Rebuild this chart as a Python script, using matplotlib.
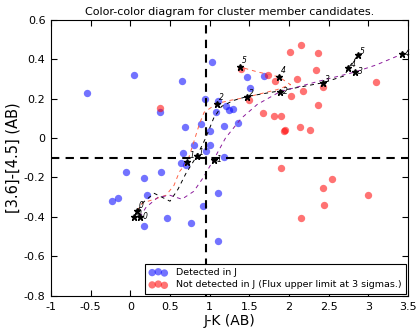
import matplotlib
matplotlib.use('Agg')
import matplotlib.pyplot as plt
import numpy as np

# detected in J: (J-K, [3.6]-[4.5])
det_jk = [-0.55, 0.045, 0.37, 0.655, 0.69, 1.025, 0.94, 0.89, 0.806, 0.66,
          1.0, 1.01, 1.08, 1.11, 1.21, 1.25, 1.30, 1.18, 1.36, 1.51, 1.47,
          1.68, 1.18, -0.055, -0.23, -0.156, 0.17, 0.39, 0.21, 0.17, 0.465,
          0.76, 0.91, 1.105, 1.105, 0.634, 0.705, 0.96]
det_col = [0.23, 0.32, 0.13, 0.287, 0.054, 0.385, 0.20, 0.069, -0.037, -0.077,
           -0.037, 0.034, 0.13, 0.186, 0.16, 0.144, 0.145, 0.063, 0.078, 0.255,
           0.31, 0.316, -0.096, -0.172, -0.317, -0.305, -0.204, -0.172, -0.287,
           -0.447, -0.406, -0.43, -0.344, -0.277, -0.52, -0.127, -0.135, -0.067]

# not detected in J (upper limits)
nd_jk = [0.37, 1.39, 1.735, 1.82, 1.50, 2.01, 2.15, 2.36, 2.34, 2.10, 2.43,
         2.18, 2.025, 2.36, 3.10, 1.676, 1.81, 1.90, 1.94, 1.945, 2.14, 2.26,
         1.895, 2.43, 2.54, 2.44, 2.15, 3.0]
nd_col = [0.154, 0.35, 0.32, 0.29, 0.19, 0.435, 0.473, 0.43, 0.343, 0.30, 0.26,
          0.236, 0.215, 0.166, 0.284, 0.128, 0.11, 0.11, 0.034, 0.04, 0.054, 0.04,
          -0.152, -0.253, -0.208, -0.337, -0.406, -0.287]

# model tracks
trk_a_jk = [0.08, 0.15, 0.3, 0.45, 0.55, 0.62, 0.72, 0.8, 0.87, 0.93, 1.09,
            1.25, 1.45, 1.65, 1.85, 2.02, 1.87, 1.6, 1.38]
trk_a_col = [-0.37, -0.33, -0.31, -0.29, -0.24, -0.17, -0.12, -0.02, 0.07, 0.13,
             0.174, 0.19, 0.205, 0.225, 0.245, 0.27, 0.31, 0.335, 0.36]
star_a_jk = [0.08, 0.72, 1.09, 1.87, 1.38]
star_a_col = [-0.37, -0.12, 0.174, 0.31, 0.36]
star_a_lab = ['0', '1', '2', '4', '5']

trk_b_jk = [0.05, 0.15, 0.3, 0.4, 0.5, 0.6, 0.7, 0.84, 0.95, 1.05, 1.15, 1.3,
            1.47, 1.9, 2.43, 2.7, 2.75, 2.87]
trk_b_col = [-0.40, -0.33, -0.28, -0.30, -0.32, -0.26, -0.18, -0.09, 0.0, 0.1,
             0.16, 0.19, 0.21, 0.24, 0.28, 0.315, 0.355, 0.42]
star_b_jk = [0.05, 0.84, 1.47, 2.43, 2.75, 2.87]
star_b_col = [-0.40, -0.09, 0.21, 0.28, 0.355, 0.42]
star_b_lab = ['0', '1', '2', '3', '4', '5']

trk_c_jk = [0.12, 0.2, 0.35, 0.5, 0.65, 0.8, 0.92, 1.05, 1.2, 1.4, 1.6, 1.89,
            2.4, 2.83, 3.1, 3.42, 3.5]
trk_c_col = [-0.40, -0.35, -0.30, -0.29, -0.31, -0.27, -0.2, -0.11, 0.0, 0.1,
             0.17, 0.235, 0.29, 0.334, 0.37, 0.424, 0.44]
star_c_jk = [0.12, 1.05, 1.89, 2.83, 3.42]
star_c_col = [-0.40, -0.11, 0.235, 0.334, 0.424]
star_c_lab = ['0', '1', '2', '3', '4']

JK_CUT = 0.95
COL_CUT = -0.1

xtick_vals = [-1, -0.5, 0, 0.5, 1, 1.5, 2, 2.5, 3, 3.5]
xtick_labs = ['-1', '-0.5', '0', '0.5', '1', '1.5', '2', '2.5', '3', '3.5']
ytick_vals = [-0.8, -0.6, -0.4, -0.2, 0, 0.2, 0.4, 0.6]
ytick_labs = ['-0.8', '-0.6', '-0.4', '-0.2', '0', '0.2', '0.4', '0.6']


def plot_track(ax, jk, col, sjk, scol, labs, color, off=(1.5, 1.5)):
    ax.plot(jk, col, ls='--', lw=0.7, color=color, dashes=(4, 4), zorder=2)
    ax.plot(sjk, scol, ls='none', marker='*', ms=4.5, color='k', zorder=3)
    for x, y, t in zip(sjk, scol, labs):
        ax.annotate(t, xy=(x, y), textcoords='offset points', xytext=off,
                    fontsize=5.5, style='italic', zorder=3)


def main():
    fig = plt.figure(figsize=(4.19, 3.28), dpi=100)
    ax = fig.add_axes([0.1217, 0.0976, 0.8520, 0.8429])

    ax.scatter(det_jk, det_col, s=28, color='blue', alpha=0.55, lw=0,
               label='Detected in J', zorder=1)
    ax.scatter(nd_jk, nd_col, s=28, color='red', alpha=0.55, lw=0,
               label='Not detected in J (Flux upper limit at 3 sigmas.)', zorder=1)

    plot_track(ax, trk_a_jk, trk_a_col, star_a_jk, star_a_col, star_a_lab, '#ff6347',
               off=(1.5, 2.5))
    plot_track(ax, trk_b_jk, trk_b_col, star_b_jk, star_b_col, star_b_lab, 'k',
               off=(1.5, 0.5))
    plot_track(ax, trk_c_jk, trk_c_col, star_c_jk, star_c_col, star_c_lab, '#8b1a9b',
               off=(2.0, -1.5))

    ax.axvline(JK_CUT, color='k', ls='--', lw=1.5, dashes=(4, 3), zorder=2)
    ax.axhline(COL_CUT, color='k', ls='--', lw=1.5, dashes=(4, 3), zorder=2)

    ax.set_xlim(-1, 3.5)
    ax.set_ylim(-0.8, 0.6)
    ax.set_xticks(xtick_vals)
    ax.set_xticklabels(xtick_labs)
    ax.set_yticks(ytick_vals)
    ax.set_yticklabels(ytick_labs)
    ax.tick_params(direction='in', top=True, right=True, labelsize=8, length=4, pad=4)

    ax.set_title('Color-color diagram for cluster member candidates.', fontsize=8, pad=3)
    ax.set_xlabel('J-K (AB)', fontsize=10, labelpad=2)
    ax.set_ylabel('[3.6]-[4.5] (AB)', fontsize=10.5, labelpad=2)

    leg = ax.legend(loc='lower right', scatterpoints=3, fontsize=6.8, fancybox=False,
                    framealpha=1, edgecolor='k', borderpad=0.45, handletextpad=0.9,
                    handlelength=1.9, borderaxespad=0.25, labelspacing=0.35)
    leg.get_frame().set_linewidth(0.8)

    fig.savefig('out.png', dpi=100)


if __name__ == '__main__': main()
